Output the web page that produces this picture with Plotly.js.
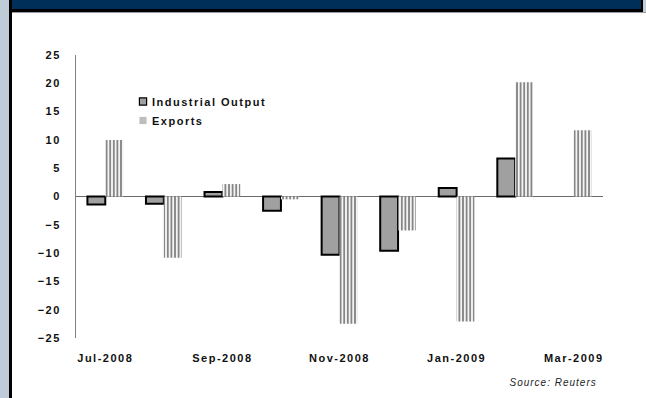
<!DOCTYPE html>
<html>
<head>
<meta charset="utf-8">
<script src="https://cdn.plot.ly/plotly-3.0.1.min.js"></script>
<style>
  html, body { margin: 0; padding: 0; background: #fff; }
  #chart { width: 646px; height: 398px; }
  #chart .main-svg text { letter-spacing: 1.5px; }
  #chart .main-svg .annotation text { letter-spacing: 1px; }
  #chart .legend .scrollbox { clip-path: none !important; }
  /* small legend keys placed close to their labels */
  #chart .legend .legendpoints path { transform: translate(31px, 0) scale(0.6) !important; }
</style>
</head>
<body>
<div id="chart"></div>
<script>
// Monthly change, %
const months = ['Jul-2008', 'Aug-2008', 'Sep-2008', 'Oct-2008', 'Nov-2008',
                'Dec-2008', 'Jan-2009', 'Feb-2009', 'Mar-2009'];
const industrialOutput = [-1.4, -1.3, 0.8, -2.5, -10.3, -9.6, 1.5, 6.7, null];
const exportsChange = [10.0, -10.8, 2.2, -0.5, -22.5, -6.0, -22.1, 20.2, 11.7];
const tickMonths = ['Jul-2008', 'Sep-2008', 'Nov-2008', 'Jan-2009', 'Mar-2009'];
const yTicks = [25, 20, 15, 10, 5, 0, -5, -10, -15, -20, -25];

const W = 646, H = 398;
const M = { l: 76, r: 43, t: 55, b: 60 };
const PW = W - M.l - M.r, PH = H - M.t - M.b;
// pixel position -> paper coordinates
const px = x => (x - M.l) / PW;
const py = y => (H - M.b - y) / PH;
const box = (x0, y0, x1, y1, color) => ({
  type: 'rect', xref: 'paper', yref: 'paper', layer: 'above',
  x0: px(x0), x1: px(x1), y0: py(y1), y1: py(y0),
  fillcolor: color, line: { width: 0 }
});

const traces = [
  {
    type: 'bar', name: 'Industrial Output', x: months, y: industrialOutput,
    marker: { color: '#a0a0a0', line: { color: '#000', width: 2 } }
  },
  {
    type: 'bar', name: 'Exports', x: months, y: exportsChange,
    marker: {
      color: '#f4f4f4', line: { width: 0 },
      pattern: { shape: '|', fgcolor: '#7a7a7a', bgcolor: '#f4f4f4', size: 3.6, solidity: 0.45 }
    }
  }
];

const font = { family: 'Liberation Sans, Arial, sans-serif', size: 11, color: '#111', weight: 'bold' };

const layout = {
  width: W, height: H,
  margin: M,
  paper_bgcolor: '#fff', plot_bgcolor: '#fff',
  barmode: 'group', bargap: 0.39, bargroupgap: 0,
  font: font,
  showlegend: true,
  legend: {
    x: px(112), y: py(87), xanchor: 'left', yanchor: 'top',
    bgcolor: 'rgba(0,0,0,0)', font: font, itemwidth: 30, tracegroupgap: 0
  },
  xaxis: {
    type: 'category', range: [-0.5, 8.5],
    tickvals: tickMonths, ticktext: tickMonths,
    ticks: '', showgrid: false, showline: false, zeroline: false,
    ticklabelstandoff: 12, tickfont: font, fixedrange: true
  },
  yaxis: {
    range: [-25, 25], tickvals: yTicks,
    ticks: '', showgrid: false,
    showline: true, linecolor: '#808080', linewidth: 1,
    zeroline: true, zerolinecolor: '#6a6a6a', zerolinewidth: 1,
    ticklabelstandoff: 12, tickfont: font, fixedrange: true
  },
  shapes: [
    box(0, 0, 9, H, '#bfccd7'),
    box(643, 0, W, 12, '#bfccd7'),
    box(12, 0, 641, 9, '#00305a'),
    box(9, 0, 12, H, '#000'),
    box(9, 9, 643, 12, '#000'),
    box(641, 0, 643, 12, '#000'),
    box(12, 12, W, 13, '#9a9a9a')
  ],
  annotations: [{
    xref: 'paper', yref: 'paper', x: px(515), y: py(382),
    xanchor: 'left', yanchor: 'middle', showarrow: false,
    text: 'Source: Reuters',
    font: { family: 'Liberation Sans, Arial, sans-serif', size: 10, color: '#222',
            style: 'italic', weight: 'normal' }
  }]
};

Plotly.newPlot('chart', traces, layout, { displayModeBar: false, staticPlot: true });
</script>
</body>
</html>
